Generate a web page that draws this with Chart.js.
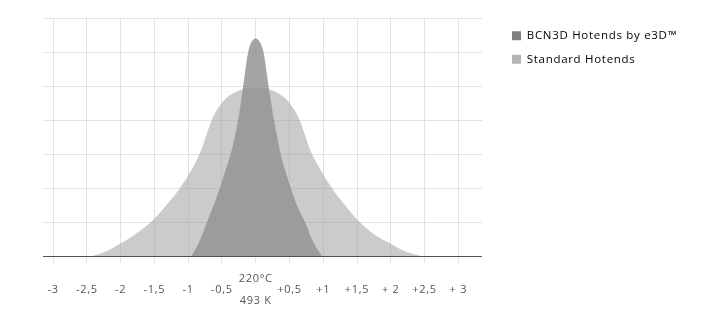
<!DOCTYPE html>
<html>
<head>
<meta charset="utf-8">
<script src="https://cdn.jsdelivr.net/npm/chart.js@4"></script>
<style>
  html, body { margin: 0; padding: 0; background: #fff; }
</style>
</head>
<body>
<canvas id="grafico" width="702" height="320"></canvas>
<script>
// valores
const seriesNames = ['BCN3D Hotends by e3D™', 'Standard Hotends'];

const bcnX = [-0.95, -0.85, -0.72, -0.62, -0.53, -0.45, -0.37, -0.31, -0.26, -0.22, -0.185, -0.15, -0.11, -0.06, 0,
  0.06, 0.115, 0.155, 0.19, 0.23, 0.27, 0.32, 0.37, 0.44, 0.52, 0.62, 0.73, 0.85, 0.98];
const bcnY = [0, 0.35, 1.0, 1.5, 2.0, 2.5, 3.0, 3.5, 4.0, 4.5, 5.0, 5.5, 6.0, 6.3, 6.4,
  6.3, 6.0, 5.5, 5.0, 4.5, 4.0, 3.5, 3.0, 2.5, 2.0, 1.45, 1.0, 0.42, 0];

const stdX = [-2.42, -2.2, -2.0, -1.8, -1.55, -1.32, -1.12, -0.93, -0.81, -0.74, -0.65, -0.57, -0.45, -0.32, -0.2, 0,
  0.2, 0.32, 0.45, 0.57, 0.65, 0.74, 0.81, 0.94, 1.12, 1.32, 1.54, 1.78, 1.99, 2.2, 2.45];
const stdY = [0, 0.15, 0.37, 0.62, 1.0, 1.5, 2.0, 2.6, 3.1, 3.5, 4.0, 4.3, 4.62, 4.8, 4.9, 4.95,
  4.9, 4.8, 4.62, 4.3, 4.0, 3.5, 3.1, 2.6, 2.02, 1.5, 1.0, 0.6, 0.37, 0.15, 0];

const tickValues = [-3, -2.5, -2, -1.5, -1, -0.5, 0, 0.5, 1, 1.5, 2, 2.5, 3];
const tickLabels = ['-3', '-2,5', '-2', '-1,5', '-1', '-0,5', ['220°C', '493 K'],
  '+0,5', '+1', '+1,5', '+ 2', '+2,5', '+ 3'];

const fillColors = ['rgba(148,148,148,0.85)', 'rgba(160,160,160,0.55)'];
const legendColors = ['#808080', '#b3b3b3'];

function pontos(xs, ys) {
  return xs.map((x, i) => ({ x: x, y: ys[i] }));
}

// empurra a legenda um pouco para a direita, como no original
const legendaDeslocada = {
  id: 'legendaDeslocada',
  beforeInit(chart) {
    const fit = chart.legend.fit;
    chart.legend.fit = function () {
      fit.call(this);
      this.width = 220;
    };
  },
  beforeUpdate(chart) {
    chart.ctx.letterSpacing = '0.7px';
  },
  afterLayout(chart) {
    chart.legend.left += 18;
    chart.legend.right += 18;
  },
  beforeDraw(chart) {
    chart.ctx.letterSpacing = '0.7px';
  }
};

const fonte = "'Open Sans', sans-serif";

new Chart(document.getElementById('grafico').getContext('2d'), {
  type: 'line',
  data: {
    datasets: [
      {
        label: seriesNames[0],
        data: pontos(bcnX, bcnY),
        backgroundColor: fillColors[0],
        borderWidth: 0,
        pointRadius: 0,
        fill: 'origin',
        tension: 0.4
      },
      {
        label: seriesNames[1],
        data: pontos(stdX, stdY),
        backgroundColor: fillColors[1],
        borderWidth: 0,
        pointRadius: 0,
        fill: 'origin',
        tension: 0.4
      }
    ]
  },
  options: {
    responsive: false,
    animation: false,
    layout: { padding: { left: 43, top: 18, right: 0, bottom: 0 } },
    scales: {
      x: {
        type: 'linear',
        min: -3,
        max: 3.35,
        afterBuildTicks(scale) {
          scale.ticks = tickValues.map(v => ({ value: v }));
        },
        afterFit(scale) {
          scale.height = 64;
        },
        grid: { color: '#e2e2e2', tickLength: 7 },
        border: { display: false },
        ticks: {
          padding: 16,
          maxRotation: 0,
          autoSkip: false,
          crossAlign: 'center',
          color: '#555',
          font: { family: fonte, size: 11, lineHeight: 2 },
          callback: (value, index) => tickLabels[index]
        }
      },
      y: {
        min: 0,
        max: 7,
        ticks: { stepSize: 1, display: false },
        grid: {
          tickLength: 10,
          color: ctx => (ctx.tick && ctx.tick.value === 0 ? '#555' : '#e2e2e2')
        },
        border: { display: false }
      }
    },
    plugins: {
      tooltip: { enabled: false },
      legend: {
        position: 'right',
        align: 'start',
        labels: {
          boxWidth: 9,
          boxHeight: 9,
          padding: 12,
          color: '#555',
          font: { family: fonte, size: 11.5 },
          generateLabels(chart) {
            return chart.data.datasets.map((ds, i) => ({
              text: ds.label,
              fillStyle: legendColors[i],
              strokeStyle: legendColors[i],
              lineWidth: 0,
              datasetIndex: i
            }));
          }
        }
      }
    }
  },
  plugins: [legendaDeslocada]
});
</script>
</body>
</html>
